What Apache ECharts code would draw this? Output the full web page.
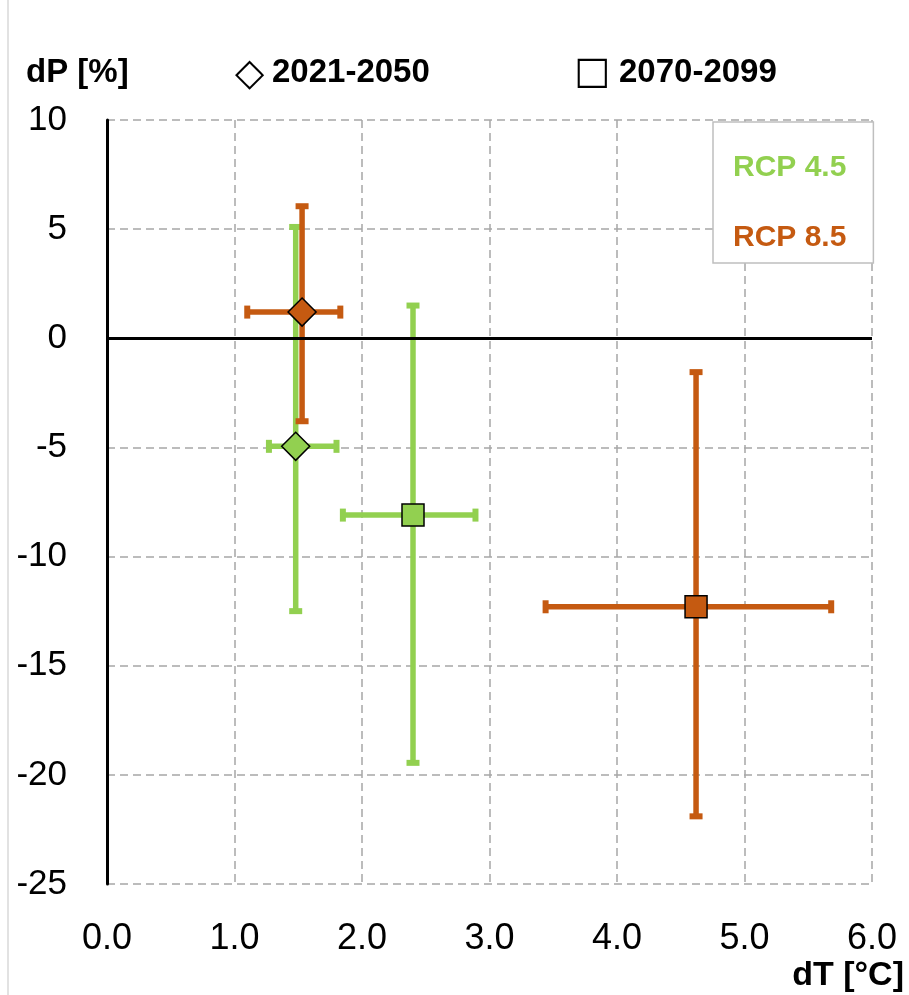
<!DOCTYPE html>
<html>
<head>
<meta charset="utf-8">
<script src="https://cdn.jsdelivr.net/npm/echarts@6/dist/echarts.min.js"></script>
<style>
  html, body { margin: 0; padding: 0; background: #fff; }
  #chart { width: 909px; height: 995px; }
</style>
</head>
<body>
<div id="chart"></div>
<script>
  // periods: diamond = 2021-2050, square = 2070-2099
  const periods = ['2021-2050', '2070-2099'];
  const periodGlyphs = ['\u25C7', '\u25A1'];
  const periodSymbols = ['diamond', 'rect'];
  const periodSizes = [[28, 28], [22, 22]];

  // RCP 4.5
  const rcp45X = [1.48, 2.40];
  const rcp45Y = [-4.95, -8.1];
  const rcp45XLow = [1.27, 1.85];
  const rcp45XHigh = [1.80, 2.89];
  const rcp45YLow = [-12.5, -19.45];
  const rcp45YHigh = [5.1, 1.5];

  // RCP 8.5
  const rcp85X = [1.53, 4.62];
  const rcp85Y = [1.2, -12.3];
  const rcp85XLow = [1.10, 3.44];
  const rcp85XHigh = [1.83, 5.68];
  const rcp85YLow = [-3.8, -21.9];
  const rcp85YHigh = [6.05, -1.55];

  const xTicks = [0, 1, 2, 3, 4, 5, 6];
  const yTicks = [-25, -20, -15, -10, -5, 0, 5, 10];

  const green = '#92D050';
  const orange = '#C55A11';
  const font = '"Liberation Sans", Arial, sans-serif';
  const symFont = '"DejaVu Sans", sans-serif';

  const chart = echarts.init(document.getElementById('chart'));

  function errorBars(xs, ys, xl, xh, yl, yh, color) {
    return function (params, api) {
      const i = params.dataIndex;
      const c = api.coord([xs[i], ys[i]]);
      const l = api.coord([xl[i], ys[i]]);
      const r = api.coord([xh[i], ys[i]]);
      const t = api.coord([xs[i], yh[i]]);
      const b = api.coord([xs[i], yl[i]]);
      const style = { stroke: color, lineWidth: 5.5 };
      const fill = { fill: color };
      return {
        type: 'group',
        children: [
          { type: 'line', shape: { x1: l[0], y1: c[1], x2: r[0], y2: c[1] }, style: style },
          { type: 'line', shape: { x1: c[0], y1: t[1], x2: c[0], y2: b[1] }, style: style },
          { type: 'rect', shape: { x: c[0] - 6.5, y: t[1] - 3, width: 13, height: 6 }, style: fill },
          { type: 'rect', shape: { x: c[0] - 6.5, y: b[1] - 3, width: 13, height: 6 }, style: fill },
          { type: 'rect', shape: { x: l[0] - 3, y: c[1] - 6.5, width: 6, height: 13 }, style: fill },
          { type: 'rect', shape: { x: r[0] - 3, y: c[1] - 6.5, width: 6, height: 13 }, style: fill }
        ]
      };
    };
  }

  function markers(xs, ys) {
    return xs.map((x, i) => ({
      value: [x, ys[i]],
      symbol: periodSymbols[i],
      symbolSize: periodSizes[i]
    }));
  }

  const option = {
    backgroundColor: '#fff',
    animation: false,
    grid: { left: 107, right: 37, top: 120, bottom: 111 },
    legend: {
      orient: 'vertical',
      left: 713,
      top: 122,
      icon: 'none',
      itemWidth: 0,
      itemHeight: 30,
      itemGap: 40,
      padding: [31, 27, 10, 15],
      borderColor: '#bfbfbf',
      borderWidth: 1.5,
      backgroundColor: '#fff',
      selectedMode: false,
      textStyle: { fontFamily: font, fontSize: 30, fontWeight: 'bold' },
      data: [
        { name: 'RCP 4.5', textStyle: { color: green } },
        { name: 'RCP 8.5', textStyle: { color: orange } }
      ]
    },
    xAxis: {
      type: 'value',
      min: xTicks[0],
      max: xTicks[xTicks.length - 1],
      interval: 1,
      axisLine: { show: false },
      axisTick: { show: false },
      axisLabel: {
        margin: 37,
        fontFamily: font,
        fontSize: 36,
        color: '#000',
        formatter: (v) => v.toFixed(1)
      },
      splitLine: { show: true, lineStyle: { color: '#a6a6a6', width: 1.5, type: [8, 5] } }
    },
    yAxis: {
      type: 'value',
      min: yTicks[0],
      max: yTicks[yTicks.length - 1],
      interval: 5,
      axisLine: { show: true, onZero: false, lineStyle: { color: '#000', width: 3 } },
      axisTick: { show: false },
      axisLabel: { margin: 40, fontFamily: font, fontSize: 35, color: '#000' },
      splitLine: { show: true, lineStyle: { color: '#a6a6a6', width: 1.5, type: [8, 5] } }
    },
    graphic: [
      { type: 'line', shape: { x1: 8, y1: 0, x2: 8, y2: 995 }, style: { stroke: '#d9d9d9', lineWidth: 1.5 } },
      { type: 'text', x: 26, y: 73, style: { text: 'dP [%]', font: 'bold 33px ' + font, fill: '#000', textVerticalAlign: 'middle' } },
      { type: 'text', x: 235, y: 75, style: { text: periodGlyphs[0], font: '38px ' + symFont, fill: '#000', textVerticalAlign: 'middle' } },
      { type: 'text', x: 272, y: 73, style: { text: periods[0], font: 'bold 33px ' + font, fill: '#000', textVerticalAlign: 'middle' } },
      { type: 'text', x: 574, y: 73, style: { text: periodGlyphs[1], font: '38px ' + symFont, fill: '#000', textVerticalAlign: 'middle' } },
      { type: 'text', x: 619, y: 73, style: { text: periods[1], font: 'bold 33px ' + font, fill: '#000', textVerticalAlign: 'middle' } },
      { type: 'text', x: 904, y: 976, style: { text: 'dT [°C]', font: 'bold 34px ' + font, fill: '#000', textAlign: 'right', textVerticalAlign: 'middle' } }
    ],
    series: [
      {
        name: 'RCP 4.5 bars',
        type: 'custom',
        z: 2,
        renderItem: errorBars(rcp45X, rcp45Y, rcp45XLow, rcp45XHigh, rcp45YLow, rcp45YHigh, green),
        data: rcp45X.map((x, i) => [x, rcp45Y[i]])
      },
      {
        name: 'RCP 8.5 bars',
        type: 'custom',
        z: 2,
        renderItem: errorBars(rcp85X, rcp85Y, rcp85XLow, rcp85XHigh, rcp85YLow, rcp85YHigh, orange),
        data: rcp85X.map((x, i) => [x, rcp85Y[i]])
      },
      {
        name: 'RCP 4.5',
        type: 'scatter',
        z: 4,
        itemStyle: { color: green, borderColor: '#000', borderWidth: 1.5, opacity: 1 },
        data: markers(rcp45X, rcp45Y),
        markLine: {
          silent: true,
          symbol: 'none',
          label: { show: false },
          lineStyle: { color: '#000', width: 3, type: 'solid' },
          data: [{ yAxis: 0 }]
        }
      },
      {
        name: 'RCP 8.5',
        type: 'scatter',
        z: 4,
        itemStyle: { color: orange, borderColor: '#000', borderWidth: 1.5, opacity: 1 },
        data: markers(rcp85X, rcp85Y)
      }
    ]
  };

  chart.setOption(option);
</script>
</body>
</html>
